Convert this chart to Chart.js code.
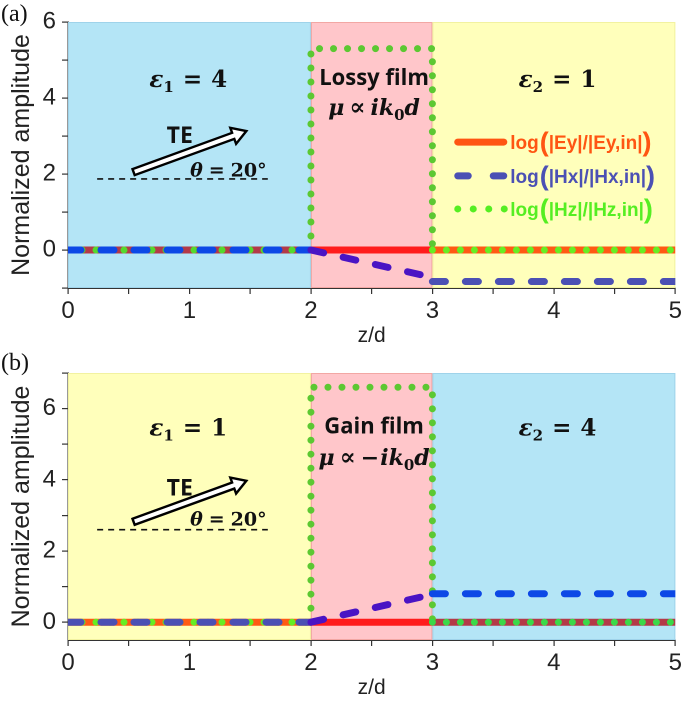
<!DOCTYPE html>
<html><head><meta charset="utf-8">
<script src="https://cdn.jsdelivr.net/npm/chart.js@4"></script>
<style>
html,body{margin:0;padding:0;background:#fff;}
#wrap{position:relative;width:685px;height:703px;overflow:hidden;}
.box{position:absolute;left:0;width:685px;}
#boxA{top:0;height:350px;}
#boxB{top:350px;height:353px;}
</style></head><body>
<div id="wrap">
<div class="box" id="boxA"><canvas id="cA" width="685" height="350"></canvas></div>
<div class="box" id="boxB"><canvas id="cB" width="685" height="353"></canvas></div>
</div>
<script>
// ---------- data ----------
const zTicks = [0, 0.5, 1, 1.5, 2, 2.5, 3, 3.5, 4, 4.5, 5];
const zLabels = [0, 1, 2, 3, 4, 5];
const yTicksA = [-1, 0, 1, 2, 3, 4, 5, 6];
const yTicksB = [0, 1, 2, 3, 4, 5, 6, 7];
const yLabels = [0, 2, 4, 6];
const regionBounds = [0, 2, 3, 5];

const zEy = [0, 2, 3, 5];
const aEy = [0, 0, 0, 0];
const bEy = [0, 0, 0, 0];

const zHx = [0, 2, 3, 3, 3, 5];
const aHx = [0, 0, -0.72, null, -0.83, -0.83];
const bHx = [0, 0, 0.78, null, 0.80, 0.80];

const zHz = [0, 2, 2, 3, 3, 5];
const aHz = [0, 0, 5.3, 5.3, 0, 0];
const bHz = [0, 0, 6.6, 6.6, 0, 0];

const legendLabels = [
  ['log', '|Ey|/|Ey,in|'],
  ['log', '|Hx|/|Hx,in|'],
  ['log', '|Hz|/|Hz,in|']
];

// ---------- styles ----------
const BLUE = '#b4e5f6', PINK = '#ffc6ca', YEL = '#ffffbb';
const EDGE = {[BLUE]: '#9fd3ea', [PINK]: '#f2a7a4', [YEL]: '#f2f2a0'};

function zip(xs, ys) { return xs.map((x, i) => ({x: x, y: ys[i]})); }
function regionIndex(z) { return z < regionBounds[1] ? 0 : (z <= regionBounds[2] ? 1 : 2); }
function segColor(cols) {
  return ctx => cols[regionIndex((ctx.p0.parsed.x + ctx.p1.parsed.x) / 2)];
}

const SERIF = '"DejaVu Serif"';
const SANS = '"Liberation Sans"';
const CAL = '"Open Sans"';

function rich(ctx, parts, cx, by, align) {
  let w = 0;
  parts.forEach(p => { ctx.font = p.f; p.w = ctx.measureText(p.t).width; w += p.w + (p.g || 0); });
  let x = align === 'left' ? cx : cx - w / 2;
  ctx.textBaseline = 'alphabetic';
  ctx.textAlign = 'left';
  parts.forEach(p => { ctx.font = p.f; ctx.fillStyle = p.c || '#111'; ctx.fillText(p.t, x, by + (p.dy || 0)); x += p.w + (p.g || 0); });
}

function epsParts(sub, val) {
  return [
    {t: 'ε', f: 'bold italic 23px ' + SERIF},
    {t: sub, f: 'bold 15px ' + SERIF, dy: 5, g: 9},
    {t: '=', f: 'bold 23px ' + SERIF, g: 9},
    {t: val, f: 'bold 23px ' + SERIF}
  ];
}

function drawArrow(ctx, x, y, len, angDeg) {
  ctx.save();
  ctx.translate(x, y);
  ctx.rotate(-angDeg * Math.PI / 180);
  ctx.beginPath();
  const hw = 3.2, hl = 14, hh = 8.5;
  ctx.moveTo(0, -hw); ctx.lineTo(len - hl, -hw); ctx.lineTo(len - hl, -hh); ctx.lineTo(len, 0);
  ctx.lineTo(len - hl, hh); ctx.lineTo(len - hl, hw); ctx.lineTo(0, hw); ctx.closePath();
  ctx.fillStyle = '#ffffff';
  ctx.fill();
  ctx.lineWidth = 2.4; ctx.strokeStyle = '#000'; ctx.lineJoin = 'miter';
  ctx.stroke();
  ctx.restore();
}

const decor = {
  id: 'decor',
  beforeDatasetsDraw(chart, args, o) {
    const {ctx, chartArea: a, scales: {x}} = chart;
    ctx.save();
    for (let i = 0; i < 3; i++) {
      const x0 = x.getPixelForValue(regionBounds[i]), x1 = x.getPixelForValue(regionBounds[i + 1]);
      ctx.fillStyle = o.bg[i];
      ctx.fillRect(x0, a.top, x1 - x0, a.bottom - a.top);
    }
    for (let i = 0; i < 3; i++) {
      const x0 = x.getPixelForValue(regionBounds[i]), x1 = x.getPixelForValue(regionBounds[i + 1]);
      ctx.strokeStyle = EDGE[o.bg[i]];
      ctx.lineWidth = 1;
      ctx.strokeRect(x0 + 0.5, a.top + 0.5, x1 - x0 - 1, a.bottom - a.top - 1);
    }
    ctx.restore();
  },
  afterDatasetsDraw(chart, args, o) {
    const {ctx, scales: {x, y}} = chart;
    const X = v => x.getPixelForValue(v), Y = v => y.getPixelForValue(v);
    ctx.save();
    // region labels
    rich(ctx, epsParts('1', o.eps1), X(0.99), Y(o.epsY));
    rich(ctx, epsParts('2', o.eps2), X(4.03), Y(o.epsY));
    rich(ctx, [{t: o.film, f: 'bold 22px ' + CAL}], X(2.52), Y(o.filmY));
    const mu = [
      {t: 'μ', f: 'bold italic 22px ' + SERIF, g: 5},
      {t: '∝', f: 'bold 24px ' + SERIF, g: 5},
    ];
    if (o.minus) mu.push({t: '−', f: 'bold 22px ' + SERIF, g: 1});
    mu.push({t: 'ik', f: 'bold italic 22px ' + SERIF});
    mu.push({t: '0', f: 'bold 15px ' + SERIF, dy: 5});
    mu.push({t: 'd', f: 'bold italic 22px ' + SERIF});
    rich(ctx, mu, X(2.52), Y(o.muY));
    // incidence
    ctx.strokeStyle = '#111'; ctx.lineWidth = 1.6; ctx.setLineDash([6, 5]);
    ctx.beginPath(); ctx.moveTo(X(0.24), Y(o.baseY)); ctx.lineTo(X(1.645), Y(o.baseY)); ctx.stroke();
    ctx.setLineDash([]);
    drawArrow(ctx, X(0.54), Y(o.arrowY), 120, 20);
    rich(ctx, [{t: 'TE', f: 'bold 23px ' + CAL}], X(0.92), Y(o.teY));
    rich(ctx, [
      {t: 'θ', f: 'bold italic 19px ' + SERIF, g: 6},
      {t: '=', f: 'bold 19px ' + SERIF, g: 6},
      {t: '20°', f: 'bold 19px ' + SERIF}
    ], X(1.32), Y(o.thY));
    // legend
    if (o.legend) {
      const lx = X(3.18);
      const cols = ['#ff5512', '#4b50b4', '#55ee22'];
      o.legendY.forEach((ly, i) => {
        const py = Y(ly);
        ctx.strokeStyle = cols[i]; ctx.fillStyle = cols[i];
        ctx.lineWidth = 7; ctx.lineCap = 'round';
        if (i === 0) {
          ctx.beginPath(); ctx.moveTo(lx + 3.5, py); ctx.lineTo(lx + 49.5, py); ctx.stroke();
        } else if (i === 1) {
          ctx.beginPath(); ctx.moveTo(lx + 3.5, py); ctx.lineTo(lx + 14, py);
          ctx.moveTo(lx + 39, py); ctx.lineTo(lx + 49.5, py); ctx.stroke();
        } else {
          [3.5, 19, 34.5, 50].forEach(d => { ctx.beginPath(); ctx.arc(lx + d, py, 3.5, 0, Math.PI * 2); ctx.fill(); });
        }
        const lab = legendLabels[i];
        rich(ctx, [
          {t: lab[0], f: 'bold 19px ' + SANS, c: cols[i], g: 1},
          {t: '(', f: 'bold 27px ' + SANS, c: cols[i], dy: 2, g: 0},
          {t: lab[1], f: 'bold 19px ' + SANS, c: cols[i], g: 0},
          {t: ')', f: 'bold 27px ' + SANS, c: cols[i], dy: 2}
        ], lx + 56, py + 7, 'left');
      });
    }
    ctx.restore();
  },
  afterDraw(chart, args, o) {
    const {ctx} = chart;
    ctx.save();
    ctx.font = '24px "Liberation Serif"';
    ctx.fillStyle = '#111'; ctx.textAlign = 'left'; ctx.textBaseline = 'alphabetic';
    ctx.fillText(o.tag, 1, o.tagY);
    ctx.restore();
  }
};

function makeChart(id, c) {
  const axisCommon = {
    grid: {display: true, drawOnChartArea: false, drawTicks: true, tickLength: 6, color: '#333', lineWidth: 1.2},
    border: {display: true, color: '#333', width: 1.5}
  };
  return new Chart(document.getElementById(id), {
    type: 'line',
    data: {datasets: [
      {label: 'Hx', data: zip(zHx, c.hx), borderWidth: 7, borderDash: [13, 20], borderCapStyle: 'round',
       borderColor: c.hxC[0], segment: {borderColor: segColor(c.hxC)}, pointRadius: 0, spanGaps: false},
      {label: 'Hz', data: zip(zHz, c.hz), borderWidth: 7, borderDash: [0, 14], borderCapStyle: 'round',
       borderColor: c.hzC[0], segment: {borderColor: segColor(c.hzC)}, pointRadius: 0},
      {label: 'Ey', data: zip(zEy, c.ey), borderWidth: 7, borderCapStyle: 'butt',
       borderColor: c.eyC[0], segment: {borderColor: segColor(c.eyC)}, pointRadius: 0}
    ]},
    options: {
      responsive: false, animation: false, devicePixelRatio: 2,
      layout: {padding: {top: c.padTop, right: 9, left: 0, bottom: 0}},
      elements: {line: {tension: 0, fill: false}},
      plugins: {
        legend: {display: false}, tooltip: {enabled: false},
        decor: c.decor
      },
      scales: {
        x: Object.assign({
          type: 'linear', min: 0, max: 5,
          afterBuildTicks: s => { s.ticks = zTicks.map(v => ({value: v})); },
          afterFit: s => { s.height = c.xAxisH; },
          ticks: {callback: v => zLabels.includes(v) ? String(v) : '', autoSkip: false, maxRotation: 0,
                  font: {family: SANS, size: 24}, color: '#222', padding: 3},
          title: {display: true, text: 'z/d', font: {family: SANS, size: 21}, color: '#222', padding: {top: 0, bottom: c.titlePad}}
        }, axisCommon),
        y: Object.assign({
          type: 'linear', min: c.ymin, max: c.ymax,
          afterBuildTicks: s => { s.ticks = c.yTicks.map(v => ({value: v})); },
          afterFit: s => { s.width = 68; },
          ticks: {callback: v => yLabels.includes(v) ? String(v) : '', autoSkip: false,
                  font: {family: SANS, size: 24}, color: '#222', padding: 6},
          title: {display: true, text: 'Normalized amplitude', font: {family: SANS, size: 25}, color: '#222', padding: {top: 7, bottom: 0}}
        }, axisCommon)
      }
    },
    plugins: [decor]
  });
}

makeChart('cA', {
  ey: aEy, hx: aHx, hz: aHz, ymin: -1, ymax: 6, yTicks: yTicksA, padTop: 22, xAxisH: 62, titlePad: 1,
  eyC: ['#b33a48', '#ff1c1c', '#ff5a14'],
  hxC: ['#0d48e6', '#4a14c4', '#4b50b4'],
  hzC: ['#55d82c', '#5cc832', '#66ee22'],
  decor: {bg: [BLUE, PINK, YEL], eps1: '4', eps2: '1', epsY: 4.29, film: 'Lossy film', filmY: 4.34, muY: 3.55, minus: false,
          baseY: 1.87, arrowY: 2.05, teY: 2.82, thY: 1.93, legend: true, legendY: [2.84, 1.95, 1.08], tag: '(a)', tagY: 21}
});
makeChart('cB', {
  ey: bEy, hx: bHx, hz: bHz, ymin: -0.5, ymax: 7, yTicks: yTicksB, padTop: 23, xAxisH: 63, titlePad: 2,
  eyC: ['#ff5a14', '#ff1c1c', '#b33a48'],
  hxC: ['#4b50b4', '#4a14c4', '#0d48e6'],
  hzC: ['#66ee22', '#5cc832', '#3ad848'],
  decor: {bg: [YEL, PINK, BLUE], eps1: '1', eps2: '4', epsY: 5.25, film: 'Gain film', filmY: 5.3, muY: 4.41, minus: true,
          baseY: 2.6, arrowY: 2.82, teY: 3.56, thY: 2.71, legend: false, tag: '(b)', tagY: 20}
});
</script>
</body></html>
